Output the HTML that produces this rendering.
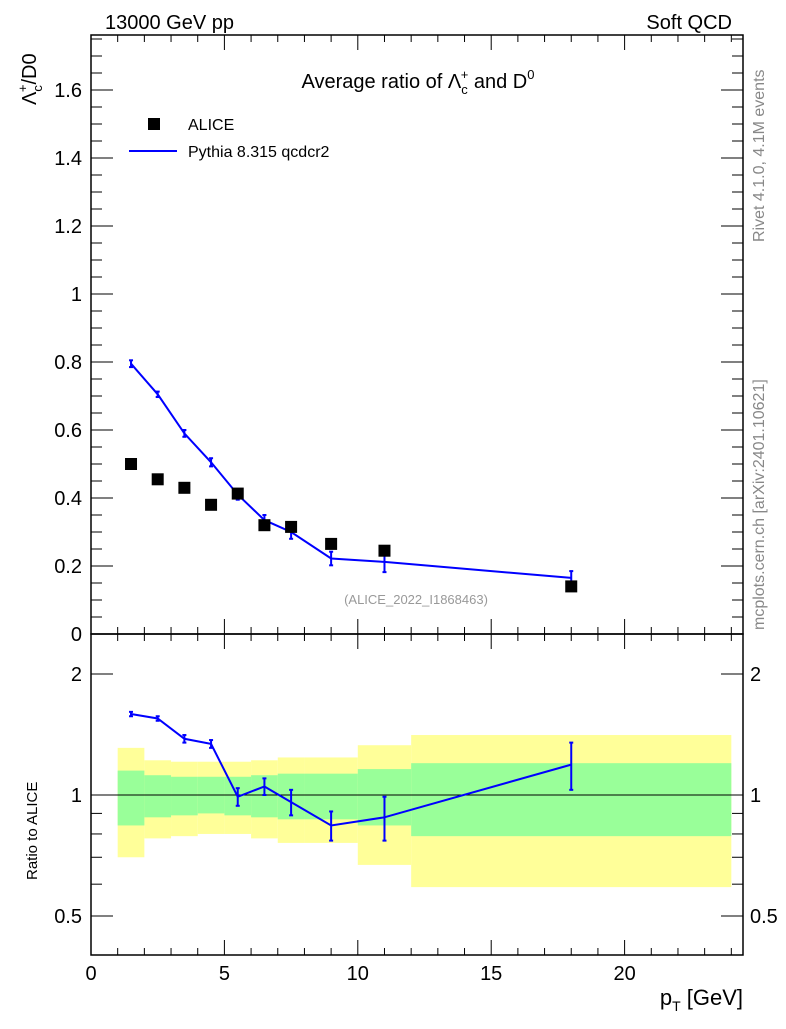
<!DOCTYPE html>
<html><head><meta charset="utf-8"><style>
body{margin:0;background:#fff;font-family:"Liberation Sans",sans-serif}
svg text{font-family:"Liberation Sans",sans-serif}
</style></head><body>
<svg id="c" width="786" height="1024" xmlns="http://www.w3.org/2000/svg">
<text x="105" y="29" font-size="20">13000 GeV pp</text>
<text x="732" y="29" font-size="20" text-anchor="end">Soft QCD</text>
<text x="418" y="88" font-size="20" text-anchor="middle">Average ratio of Λ<tspan font-size="13" dy="6">c</tspan><tspan font-size="13" dx="-7" dy="-15">+</tspan><tspan dy="9"> and D</tspan><tspan font-size="13" dy="-9">0</tspan></text>
<text transform="translate(36,105) rotate(-90)" font-size="20">Λ<tspan font-size="13" dy="6">c</tspan><tspan font-size="13" dx="-7" dy="-15">+</tspan><tspan dy="9">/D0</tspan></text>
<text transform="translate(37,880) rotate(-90)" font-size="15">Ratio to ALICE</text>
<text x="743" y="1005" font-size="22" text-anchor="end">p<tspan font-size="14" dy="6">T</tspan><tspan dy="-6"> [GeV]</tspan></text>
<text transform="translate(764,242) rotate(-90)" font-size="16" fill="#888">Rivet 4.1.0,  4.1M events</text>
<text transform="translate(764,630) rotate(-90)" font-size="16" fill="#888">mcplots.cern.ch [arXiv:2401.10621]</text>
<text x="416" y="604" font-size="13" fill="#999" text-anchor="middle">(ALICE_2022_I1868463)</text>
<g>
<rect x="148" y="118" width="12" height="12" fill="#000"/>
<text x="188" y="130" font-size="16">ALICE</text>
<line x1="129" y1="151" x2="177" y2="151" stroke="#0000ff" stroke-width="2"/>
<text x="188" y="157" font-size="16">Pythia 8.315 qcdcr2</text>
</g>
<g id="g"></g>
</svg>
<script>
const xEdges=[1,2,3,4,5,6,7,8,10,12,24];
const xPts=[1.5,2.5,3.5,4.5,5.5,6.5,7.5,9,11,18];
const aliceY=[0.50,0.455,0.43,0.38,0.413,0.32,0.315,0.265,0.245,0.14];
const pythiaY=[0.795,0.705,0.59,0.505,0.41,0.335,0.30,0.222,0.212,0.165];
const pythiaErr=[0.01,0.008,0.01,0.012,0.015,0.015,0.02,0.02,0.03,0.02];
const ratioY=[1.59,1.55,1.38,1.34,0.99,1.05,0.96,0.84,0.88,1.19];
const ratioErr=[0.02,0.02,0.03,0.03,0.05,0.05,0.07,0.07,0.11,0.16];
const greenHi=[1.15,1.12,1.11,1.11,1.11,1.12,1.13,1.13,1.16,1.20];
const greenLo=[0.84,0.88,0.89,0.90,0.89,0.88,0.87,0.87,0.84,0.79];
const yellowHi=[1.31,1.22,1.21,1.21,1.21,1.22,1.24,1.24,1.33,1.41];
const yellowLo=[0.70,0.78,0.79,0.80,0.80,0.78,0.76,0.76,0.67,0.59];
const xTicks=[0,5,10,15,20];
const yTicks=[0,0.2,0.4,0.6,0.8,1,1.2,1.4,1.6];
const rTicks=[0.5,1,2];

const L=91,R=743,T=35,M=634,B=955;
const X=v=>L+v*26.68;
const Y=v=>634-v*340;
const RY=v=>795-Math.log2(v)*121;
const g=document.getElementById('g');
const NS='http://www.w3.org/2000/svg';
function el(t,a,name){const e=document.createElementNS(NS,t);for(const k in a)e.setAttribute(k,a[k]);


g.appendChild(e);return e;}
for(let i=0;i<10;i++){
 el('rect',{x:X(xEdges[i]),y:RY(yellowHi[i]),width:X(xEdges[i+1])-X(xEdges[i]),height:RY(yellowLo[i])-RY(yellowHi[i]),fill:'#ffff99'},'yellow-band');
}
for(let i=0;i<10;i++){
 el('rect',{x:X(xEdges[i]),y:RY(greenHi[i]),width:X(xEdges[i+1])-X(xEdges[i]),height:RY(greenLo[i])-RY(greenHi[i]),fill:'#99ff99'},'green-band');
}
el('line',{x1:L,x2:R,y1:RY(1),y2:RY(1),stroke:'#000','stroke-width':1},'ratio-reference-line');
el('rect',{x:L,y:T,width:R-L,height:M-T,fill:'none',stroke:'#000','stroke-width':1.5},'main-frame');
el('rect',{x:L,y:M,width:R-L,height:B-M,fill:'none',stroke:'#000','stroke-width':1.5},'ratio-frame');
for(let v=0;v<=24;v++){const maj=v%5==0;const len=maj?15:7;
 for(const [y0,dir] of [[T,1],[M,-1],[M,1],[B,-1]])
  el('line',{x1:X(v),x2:X(v),y1:y0,y2:y0+dir*len,stroke:'#000'},'x-tick');}
xTicks.forEach(v=>{const t=el('text',{x:X(v),y:980,'font-size':20,'text-anchor':'middle'},'x-tick-label');t.textContent=v;});
for(let k=0;k<=35;k++){const v=k*0.05;if(Y(v)<T)break;const maj=k%4==0;const len=maj?22:11;
 el('line',{x1:L,x2:L+len,y1:Y(v),y2:Y(v),stroke:'#000'},'y-tick');
 el('line',{x1:R,x2:R-len,y1:Y(v),y2:Y(v),stroke:'#000'},'y-tick');}
yTicks.forEach(v=>{const t=el('text',{x:82,y:Y(v)+7,'font-size':20,'text-anchor':'end'},'y-tick-label');t.textContent=v==0?'0':String(v);});
[0.5,0.6,0.7,0.8,0.9,1,2].forEach(v=>{const maj=rTicks.includes(v);const len=maj?22:11;
 el('line',{x1:L,x2:L+len,y1:RY(v),y2:RY(v),stroke:'#000'},'ratio-y-tick');
 el('line',{x1:R,x2:R-len,y1:RY(v),y2:RY(v),stroke:'#000'},'ratio-y-tick');});
rTicks.forEach(v=>{for(const [x,a] of [[82,'end'],[750,'start']]){const t=el('text',{x:x,y:RY(v)+7,'font-size':20,'text-anchor':a},'ratio-tick-label');t.textContent=v;}});
function ebar(x,y1,y2,name){
 el('line',{x1:x,x2:x,y1:y1,y2:y2,stroke:'#0000ff','stroke-width':2},name);
 el('line',{x1:x-2,x2:x+2,y1:y1,y2:y1,stroke:'#0000ff','stroke-width':2},name+'-cap');
 el('line',{x1:x-2,x2:x+2,y1:y2,y2:y2,stroke:'#0000ff','stroke-width':2},name+'-cap');
}
el('polyline',{points:xPts.map((x,i)=>X(x)+','+Y(pythiaY[i])).join(' '),fill:'none',stroke:'#0000ff','stroke-width':2},'pythia-line');
xPts.forEach((x,i)=>{ebar(X(x),Y(pythiaY[i]+pythiaErr[i]),Y(pythiaY[i]-pythiaErr[i]),'pythia-errorbar');
 el('rect',{x:X(x)-6,y:Y(aliceY[i])-6,width:12,height:12,fill:'#000'},'alice-point');});
el('polyline',{points:xPts.map((x,i)=>X(x)+','+RY(ratioY[i])).join(' '),fill:'none',stroke:'#0000ff','stroke-width':2},'ratio-line');
xPts.forEach((x,i)=>{ebar(X(x),RY(ratioY[i]+ratioErr[i]),RY(ratioY[i]-ratioErr[i]),'ratio-errorbar');});
</script>
</body></html>
